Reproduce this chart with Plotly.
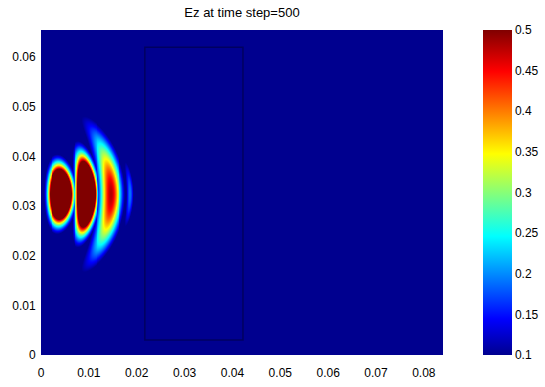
import numpy as np
import plotly.graph_objects as go

# ---- data ----
x_ticks = [0, 0.01, 0.02, 0.03, 0.04, 0.05, 0.06, 0.07, 0.08]
x_tick_labels = ["0", "0.01", "0.02", "0.03", "0.04", "0.05", "0.06", "0.07", "0.08"]
y_ticks = [0, 0.01, 0.02, 0.03, 0.04, 0.05, 0.06]
y_tick_labels = ["0", "0.01", "0.02", "0.03", "0.04", "0.05", "0.06"]
cbar_ticks = [0.1, 0.15, 0.2, 0.25, 0.3, 0.35, 0.4, 0.45, 0.5]
cbar_tick_labels = ["0.1", "0.15", "0.2", "0.25", "0.3", "0.35", "0.4", "0.45", "0.5"]

domain_x = [0.0, 0.084]
domain_y = [0.0, 0.0655]
beam_axis_y = 0.0325

# wave fronts (positive half cycles of Ez) seen at step 500
front_x = [0.0040, 0.0094, 0.0145, 0.0185]       # position on beam axis
front_curvature = [0.050, 0.034, 0.025, 0.024]   # radius of curvature
front_amp = [1.5, 1.4, 0.48, 0.19]               # peak Ez
front_thickness = [0.0021, 0.0018, 0.0024, 0.0009]
front_height = [0.0049, 0.0066, 0.0125, 0.0081]

slab_x = [0.0217, 0.0422]
slab_y = [0.0030, 0.0620]

# ---- field grid ----
xg = np.linspace(domain_x[0], domain_x[1], 421)
yg = np.linspace(domain_y[0], domain_y[1], 329)
X, Y = np.meshgrid(xg, yg)
Z = np.zeros_like(X)
for fx, R, A, s, h in zip(front_x, front_curvature, front_amp, front_thickness, front_height):
    cx = fx - R
    r = np.sqrt((X - cx) ** 2 + (Y - beam_axis_y) ** 2)
    val = A * np.exp(-((r - R) / s) ** 2) * np.exp(-((Y - beam_axis_y) / h) ** 2)
    Z = np.maximum(Z, val)

jet = [
    [0.0, "rgb(0,0,143)"],
    [0.111, "rgb(0,0,255)"],
    [0.365, "rgb(0,255,255)"],
    [0.619, "rgb(255,255,0)"],
    [0.873, "rgb(255,0,0)"],
    [1.0, "rgb(128,0,0)"],
]

font = dict(family="Liberation Sans, Arial", size=12, color="black")

fig = go.Figure()
fig.add_trace(go.Heatmap(
    x=xg, y=yg, z=Z,
    zmin=0.1, zmax=0.5,
    colorscale=jet,
    zsmooth="best",
    colorbar=dict(
        x=(483 - 41) / 402, xanchor="left", xref="paper",
        y=0.5, yanchor="middle", len=1.0, lenmode="fraction",
        thickness=29, thicknessmode="pixels",
        outlinewidth=0,
        tickvals=cbar_ticks, ticktext=cbar_tick_labels,
        ticks="", tickfont=font,
        ypad=0, xpad=0,
    ),
    hoverinfo="skip",
))

fig.add_shape(
    type="rect", xref="x", yref="y",
    x0=slab_x[0], x1=slab_x[1], y0=slab_y[0], y1=slab_y[1],
    line=dict(color="rgba(0,0,80,0.75)", width=1.5),
)

fig.update_layout(
    template="none",
    width=545, height=387,
    margin=dict(l=41, r=102, t=30, b=32, autoexpand=False),
    paper_bgcolor="white", plot_bgcolor="white",
    title=dict(
        text="Ez at time step=500",
        x=0.5, xref="paper", xanchor="center",
        y=1 - 12 / 387, yref="container", yanchor="middle",
        font=dict(family="Liberation Sans, Arial", size=13, color="black"),
    ),
    xaxis=dict(
        range=domain_x, tickvals=x_ticks, ticktext=x_tick_labels,
        showgrid=False, zeroline=False, ticks="outside", ticklen=7,
        tickcolor="rgba(0,0,0,0)", automargin=False,
        tickfont=font, showline=False,
    ),
    yaxis=dict(
        range=domain_y, tickvals=y_ticks, ticktext=y_tick_labels,
        showgrid=False, zeroline=False, ticks="outside", ticklen=2,
        tickcolor="rgba(0,0,0,0)", automargin=False,
        tickfont=font, showline=False,
    ),
)

fig.write_html("out.html")
